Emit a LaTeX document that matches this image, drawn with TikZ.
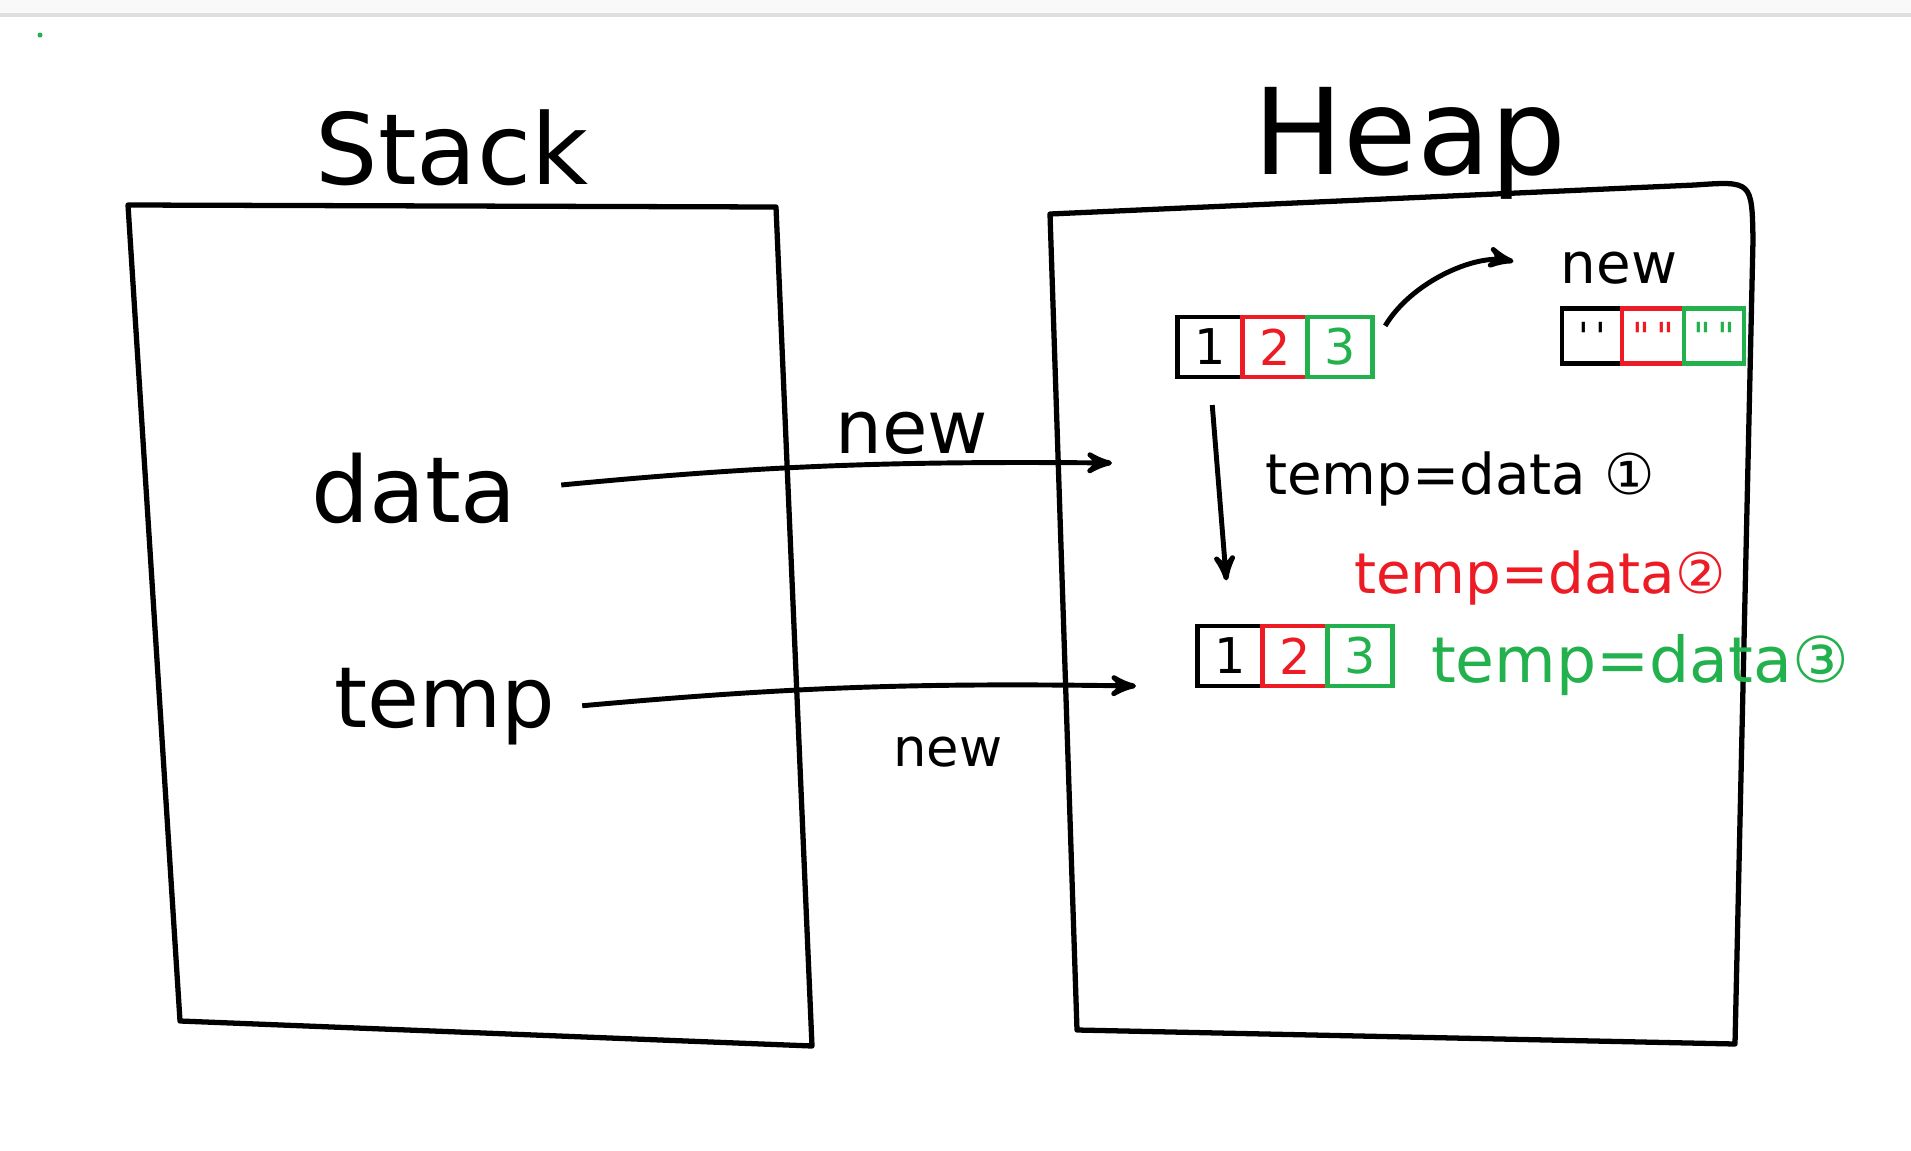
\documentclass[tikz,border=0pt]{standalone}
\usepackage{fontspec}
\setmainfont{DejaVu Sans}
\usepackage{xcolor}
\usetikzlibrary{arrows,positioning}
\definecolor{pred}{HTML}{ED1C24}
\definecolor{pgreen}{HTML}{22B14C}
\newcommand{\fs}[1]{\fontsize{#1}{#1}\selectfont}

\begin{document}
\begin{tikzpicture}[x=0.01cm,y=-0.01cm,->,>=stealth',semithick]
    \tikzstyle{wall}=[-,line width=1.5pt,line join=round,line cap=round]
    \tikzstyle{cell}=[draw,-,line width=1.3pt,outer sep=0pt,inner sep=0pt,minimum width=0.65cm,minimum height=0.6cm,font=\fs{14}]
    \tikzstyle{link}=[line width=1.4pt]
    \useasboundingbox (0,0) rectangle (1911,1151);
    \fill[gray!5] (0,0) rectangle (1911,15);
    \draw[-,gray!25,line width=1pt] (0,15) -- (1911,15);
    \fill[pgreen] (40,35) circle (2.5);

    % stack and heap
    \draw[wall] (128,205) -- (776,207) -- (812,1046) -- (180,1021) -- cycle;
    \draw[wall] (1077,1030) -- (1050,214) -- (1695,185) .. controls (1752,181) .. (1753,240) -- (1735,1044) -- cycle;
    \node [font=\fs{28}] (stack) at (452,148) {Stack};
    \node [font=\fs{34}] (heap) at (1410,143) {Heap};

    \node [font=\fs{26}] (data) at (414,488) {data};
    \node [font=\fs{24}] (temp) at (445,707) {temp};
    \coordinate (dataref) at (1112,463);
    \coordinate (tempref) at (1136,686);

    % first array
    \node [cell] (a1) at (1210,347) {1};
    \node [cell, right=0pt of a1, draw=pred, text=pred] (a2) {2};
    \node [cell, right=0pt of a2, draw=pgreen, text=pgreen] (a3) {3};

    % new array
    \node [cell, minimum width=0.6cm, minimum height=0.55cm, font=\fs{11}] (c1) at (1592,336) {\textquotesingle\,\textquotesingle};
    \node [cell, minimum width=0.62cm, minimum height=0.55cm, font=\fs{11}, right=0pt of c1, draw=pred, text=pred] (c2) {\textquotedbl\,\textquotedbl};
    \node [cell, minimum width=0.6cm, minimum height=0.55cm, font=\fs{11}, right=0pt of c2, draw=pgreen, text=pgreen] (c3) {\textquotedbl\,\textquotedbl};
    \node [font=\fs{16}] (newtop) at (1619,268) {new};

    % copied array
    \node [cell] (b1) at (1230,656) {1};
    \node [cell, right=0pt of b1, draw=pred, text=pred] (b2) {2};
    \node [cell, right=0pt of b2, draw=pgreen, text=pgreen] (b3) {3};

    \node [font=\fs{16}] (step1) at (1460,479) {temp=data ①};
    \node [font=\fs{16}, text=pred] (step2) at (1540,578) {temp=data②};
    \node [font=\fs{18}, text=pgreen] (step3) at (1640,665) {temp=data③};

    \draw [link, shorten <=9pt] (data.east) to[bend left=3] (dataref);
    \draw [link, shorten <=4pt] (temp.east) to[bend left=3] (tempref);
    \node [font=\fs{21}] (newa) at (912,433) {new};
    \node [font=\fs{15}] (newb) at (948,752) {new};
    \draw [link, shorten <=8pt, shorten >=13pt] (a1.south) -- (b1.north);
    \draw [link, shorten <=7pt, shorten >=10pt] (a3.east) to[bend left=35] (newtop.west);
\end{tikzpicture}
\end{document}
